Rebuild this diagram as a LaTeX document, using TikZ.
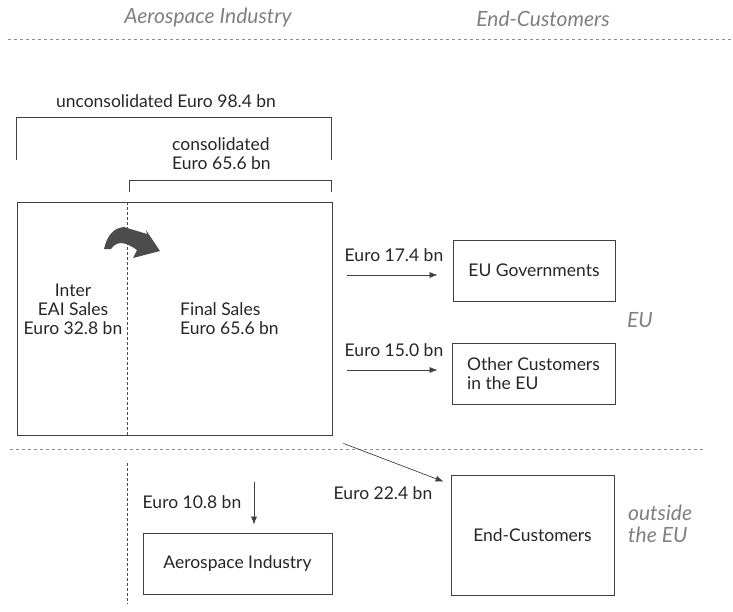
\documentclass[tikz,border=0pt]{standalone}
\usepackage{fontspec}
\setmainfont{Lato}
\usetikzlibrary{arrows.meta}

\begin{document}
\begin{tikzpicture}[x=1pt,y=-1pt,
    txt/.style={text=black!85,font=\fontsize{17.5}{19}\selectfont,inner sep=0pt},
    hdr/.style={text=black!50,font=\fontsize{21}{22}\selectfont\itshape,inner sep=0pt},
    box/.style={draw=black!75,line width=.8pt,inner sep=0pt,text=black!85,font=\fontsize{17.5}{19}\selectfont},
    bracket/.style={draw=black!75,line width=.8pt},
    flow/.style={draw=black!75,line width=.7pt,-{Latex[length=8pt,width=6pt]}},
    sep/.style={draw=black!45,dash pattern=on 3pt off 3pt,line width=.6pt},
    split/.style={draw=black!70,dash pattern=on 2.5pt off 2.5pt,line width=.7pt}]
    \useasboundingbox (0,0) rectangle (733,611);
    % column heads
    \node[hdr] (hAero) at (208,18) {Aerospace Industry};
    \node[hdr] (hEnd) at (543,19) {End-Customers};
    \draw[sep] (8,39) -- (733,39);
    \draw[sep] (10,449) -- (706,449);
    % totals
    \node[txt] (uncons) at (166,101) {unconsolidated Euro 98.4 bn};
    \draw[bracket] (16,160) -- (16,117) -- (331,117) -- (331,160);
    \node[txt,align=left,anchor=west] (cons) at (172,154) {consolidated\\Euro 65.6 bn};
    \draw[bracket] (129,192) -- (129,180) -- (331,180) -- (331,192);
    % sales
    \node[box,minimum width=315pt,minimum height=233pt] (sales) at (174.5,318.5) {};
    \draw[split] (127,202) -- (127,435);
    \draw[split] (127,463) -- (127,604);
    \node[txt,align=center] (inter) at (73,309) {Inter\\EAI Sales\\Euro 32.8 bn};
    \node[txt,align=left,anchor=west] (final) at (180,318.5) {Final Sales\\Euro 65.6 bn};
    \fill[black!70] (104,249) .. controls (107,236) and (113,228) .. (124,227) -- (147,234) -- (146,230)
        -- (160,251) -- (133,258) -- (137,250) .. controls (126,242) and (117,240) .. (111,249) -- cycle;
    % customers
    \node[box,minimum width=162pt,minimum height=61pt] (gov) at (534,270.5) {EU Governments};
    \node[box,minimum width=163pt,minimum height=61pt,align=left] (other) at (533.5,373.5) {Other Customers\\in the EU};
    \node[box,minimum width=189pt,minimum height=61pt] (aero) at (237.5,563.5) {Aerospace Industry};
    \node[box,minimum width=163pt,minimum height=120pt] (endc) at (532.5,535) {End-Customers};
    \node[hdr] (eu) at (640,320) {EU};
    \node[hdr,align=left,anchor=west] (outeu) at (628,524) {outside\\the EU};
    % flows
    \draw[flow,shorten <=15pt,shorten >=15pt] (sales.east |- 0,275) -- (gov.west |- 0,275);
    \node[txt] (e174) at (394,255) {Euro 17.4 bn};
    \draw[flow,shorten <=15pt,shorten >=14pt] (sales.east |- 0,370) -- (other.west |- 0,370);
    \node[txt] (e150) at (394,350) {Euro 15.0 bn};
    \coordinate (d0) at (254,482);
    \draw[flow,shorten >=8pt] (d0) -- (aero.north -| d0);
    \node[txt] (e108) at (192,502) {Euro 10.8 bn};
    \draw[flow] ([shift={(11pt,-8pt)}]sales.south east) -- ([shift={(-7pt,-7pt)}]endc.north west);
    \node[txt] (e224) at (383,493) {Euro 22.4 bn};
\end{tikzpicture}
\end{document}
